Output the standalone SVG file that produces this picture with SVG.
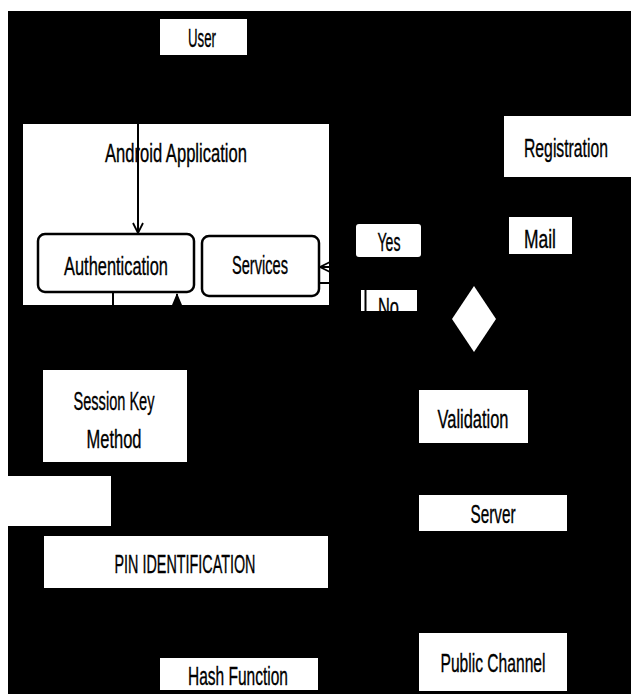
<svg xmlns="http://www.w3.org/2000/svg" width="631" height="694" viewBox="0 0 631 694">
  <defs>
    <style>
      .box { fill: #ffffff; stroke: none; }
      .rbox { fill: #ffffff; stroke: #000000; stroke-width: 2.5; }
      .t { font-family: "Liberation Sans", Arial, sans-serif; font-size: 25px; fill: #000000; stroke: #000000; stroke-width: 0.35; text-anchor: middle; }
      .conn { fill: none; stroke: #000000; stroke-width: 2; }
    </style>
    <marker id="openArrow" viewBox="0 0 12 12" refX="11" refY="6" markerWidth="12" markerHeight="12" markerUnits="userSpaceOnUse" orient="auto">
      <path d="M1,1 L11,6 L1,11" fill="none" stroke="#000000" stroke-width="1.8"/>
    </marker>
    <marker id="fillArrow" viewBox="0 0 12 12" refX="11" refY="6" markerWidth="12" markerHeight="12" markerUnits="userSpaceOnUse" orient="auto">
      <path d="M0,1 L12,6 L0,11 Z" fill="#000000"/>
    </marker>
    <clipPath id="noClip">
      <rect x="361" y="290" width="56" height="21"/>
    </clipPath>
  </defs>

  <rect x="0" y="0" width="631" height="694" fill="#ffffff"/>
  <rect x="8" y="11" width="623" height="683" fill="#000000"/>

  <g id="user">
    <rect class="box" x="160" y="19" width="87" height="36"/>
    <text class="t" x="202" y="47" textLength="28" lengthAdjust="spacingAndGlyphs">User</text>
  </g>

  <g id="android-application">
    <rect class="box" x="23" y="124" width="306" height="181"/>
    <text class="t" x="176" y="162" textLength="142" lengthAdjust="spacingAndGlyphs">Android Application</text>
  </g>

  <g id="authentication">
    <rect class="rbox" x="38" y="234" width="156" height="58" rx="7"/>
    <text class="t" x="116" y="275" textLength="104" lengthAdjust="spacingAndGlyphs">Authentication</text>
  </g>

  <g id="services">
    <rect class="rbox" x="202" y="236" width="117" height="60" rx="7"/>
    <text class="t" x="260" y="274" textLength="56" lengthAdjust="spacingAndGlyphs">Services</text>
  </g>

  <g id="yes">
    <rect class="box" x="356" y="224" width="65" height="33" rx="3"/>
    <text class="t" x="389" y="251" textLength="23" lengthAdjust="spacingAndGlyphs">Yes</text>
  </g>

  <g id="no">
    <rect class="box" x="361" y="290" width="56" height="21"/>
    <line x1="365.5" y1="290" x2="365.5" y2="311" stroke="#000000" stroke-width="2"/>
    <text class="t" x="388.5" y="316" textLength="21" lengthAdjust="spacingAndGlyphs" clip-path="url(#noClip)">No</text>
  </g>

  <g id="decision">
    <polygon points="474,286 496,319 474,352 452,319" fill="#ffffff"/>
  </g>

  <g id="registration">
    <rect class="box" x="504" y="116" width="127" height="61"/>
    <text class="t" x="566" y="157" textLength="84" lengthAdjust="spacingAndGlyphs">Registration</text>
  </g>

  <g id="mail">
    <rect class="box" x="509" y="217" width="63" height="37"/>
    <text class="t" x="540" y="248" textLength="32" lengthAdjust="spacingAndGlyphs">Mail</text>
  </g>

  <g id="session-key-method">
    <rect class="box" x="43" y="370" width="144" height="92"/>
    <text class="t" x="114" y="410" textLength="81" lengthAdjust="spacingAndGlyphs">Session Key</text>
    <text class="t" x="114" y="448" textLength="55" lengthAdjust="spacingAndGlyphs">Method</text>
  </g>

  <g id="blank-box">
    <rect class="box" x="8" y="476" width="103" height="50"/>
  </g>

  <g id="pin-identification">
    <rect class="box" x="44" y="536" width="284" height="52"/>
    <text class="t" x="185" y="573" textLength="141" lengthAdjust="spacingAndGlyphs">PIN IDENTIFICATION</text>
  </g>

  <g id="hash-function">
    <rect class="box" x="160" y="658" width="158" height="32"/>
    <text class="t" x="238" y="685" textLength="100" lengthAdjust="spacingAndGlyphs">Hash Function</text>
  </g>

  <g id="validation">
    <rect class="box" x="419" y="390" width="109" height="53"/>
    <text class="t" x="473" y="428" textLength="71" lengthAdjust="spacingAndGlyphs">Validation</text>
  </g>

  <g id="server">
    <rect class="box" x="419" y="495" width="148" height="36"/>
    <text class="t" x="493" y="523" textLength="45" lengthAdjust="spacingAndGlyphs">Server</text>
  </g>

  <g id="public-channel">
    <rect class="box" x="419" y="633" width="148" height="58"/>
    <text class="t" x="493" y="672" textLength="105" lengthAdjust="spacingAndGlyphs">Public Channel</text>
  </g>

  <g id="connectors">
    <path class="conn" d="M138,55 V233" marker-end="url(#openArrow)"/>
    <path class="conn" d="M113,293 V330"/>
    <path class="conn" d="M177,330 V294" marker-end="url(#fillArrow)"/>
    <path class="conn" d="M345,267 H320" marker-end="url(#openArrow)"/>
    <path class="conn" d="M319,283 H345"/>
  </g>
</svg>
